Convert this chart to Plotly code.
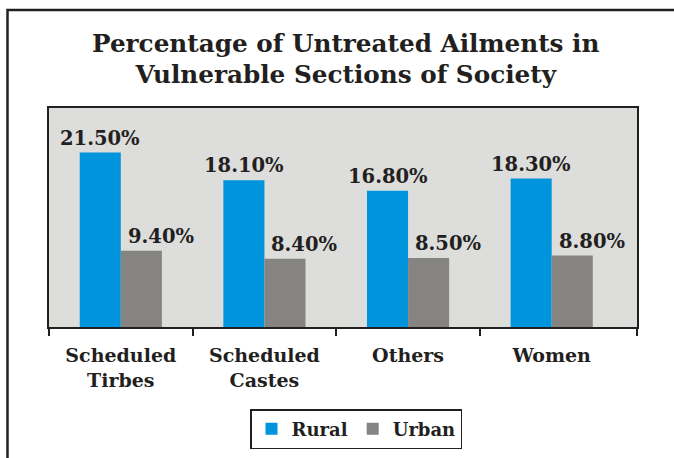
import plotly.graph_objects as go

categories = ["Scheduled<br>Tirbes", "Scheduled<br>Castes", "Others", "Women"]
rural = [21.5, 18.1, 16.8, 18.3]
urban = [9.4, 8.4, 8.5, 8.8]
rural_labels = ["21.50%", "18.10%", "16.80%", "18.30%"]
urban_labels = ["9.40%", "8.40%", "8.50%", "8.80%"]
title_lines = ["Percentage of Untreated Ailments in", "Vulnerable Sections of Society"]

BLUE = "#0094dc"
GRAY = "#858483"
DARK = "#231f20"
LABEL_FONT = dict(family="DejaVu Serif", size=19.5, color=DARK, weight="bold")

W, H = 674, 458
ML, MR, MT, MB = 49, 37, 108, 131
XMAX = 3.594  # axis extends slightly past last category as in the original
plot_w = W - ML - MR
plot_h = H - MT - MB


def px_to_paper(px, py):
    return (px - ML) / plot_w, 1 + (MT - py) / plot_h


fig = go.Figure()
fig.add_trace(go.Bar(name="Rural", x=list(range(len(categories))), y=rural,
                     marker=dict(color=BLUE, line=dict(width=0))))
fig.add_trace(go.Bar(name="Urban", x=list(range(len(categories))), y=urban,
                     marker=dict(color=GRAY, line=dict(width=0))))
# invisible helper trace to activate the tick-only overlay axis
fig.add_trace(go.Scatter(x=[-0.5], y=[0], xaxis="x2", mode="markers",
                         marker=dict(opacity=0), showlegend=False, hoverinfo="skip"))

annotations = []
for i, (v, t) in enumerate(zip(rural, rural_labels)):
    annotations.append(dict(x=i, y=v, text=t, showarrow=False, xref="x", yref="y",
                            xanchor="center", yanchor="bottom", xshift=-20.5, yshift=1,
                            font=LABEL_FONT))
for i, (v, t) in enumerate(zip(urban, urban_labels)):
    annotations.append(dict(x=i, y=v, text=t, showarrow=False, xref="x", yref="y",
                            xanchor="center", yanchor="bottom", xshift=40, yshift=1,
                            font=LABEL_FONT))

# Title: one text block; base font sets the line pitch, spans set glyph size
title_text = "<br>".join(f"<span style='font-size:24.7px'>{ln}</span>" for ln in title_lines)
tx, ty = px_to_paper(346, 59)
annotations.append(dict(x=tx, y=ty, xref="paper", yref="paper", text=title_text,
                        showarrow=False, xanchor="center", yanchor="middle", align="center",
                        font=dict(family="DejaVu Serif", size=23.5, color=DARK, weight="bold")))

fx0, _ = px_to_paper(7.5, 0)
_, fy_top = px_to_paper(0, 10)
_, fy_bot = px_to_paper(0, 470)
fx1, _ = px_to_paper(690, 0)
shapes = [
    dict(type="path", xref="paper", yref="paper",
         path=f"M {fx0} {fy_bot} L {fx0} {fy_top} L {fx1} {fy_top}",
         line=dict(color=DARK, width=2.5)),
]

lx, ly = px_to_paper(356, 409)
fig.update_layout(
    width=W, height=H, autosize=False,
    margin=dict(l=ML, r=MR, t=MT, b=MB, autoexpand=False),
    paper_bgcolor="white", plot_bgcolor="#dddddc",
    barmode="group", bargap=0.428, bargroupgap=0,
    showlegend=True,
    legend=dict(orientation="h", x=lx, xanchor="center", y=ly, yanchor="top",
                bordercolor=DARK, borderwidth=1.5, bgcolor="white",
                font=dict(family="DejaVu Serif", size=18, color=DARK, weight="bold"),
                itemwidth=30, tracegroupgap=0),
    xaxis=dict(tickmode="array", tickvals=list(range(len(categories))), ticktext=categories,
               range=[-0.5, XMAX], ticks="", showgrid=False, zeroline=False,
               showline=True, linecolor=DARK, linewidth=2, mirror=True,
               ticklabelstandoff=10, automargin=False,
               tickfont=dict(family="DejaVu Serif", size=19, color=DARK, weight="bold")),
    xaxis2=dict(overlaying="x", anchor="y", side="bottom", range=[-0.5, XMAX],
                tickmode="array", tickvals=[-0.5, 0.5, 1.5, 2.5, XMAX],
                ticks="outside", ticklen=8, tickwidth=1.5, tickcolor=DARK,
                showticklabels=False, showgrid=False, zeroline=False, showline=False),
    yaxis=dict(range=[0, 27], showticklabels=False, ticks="", showgrid=False,
               zeroline=False, showline=True, linecolor=DARK, linewidth=2, mirror=True),
    annotations=annotations,
    shapes=shapes,
)

fig.write_html("out.html", config={"displayModeBar": False},
               post_script="document.body.style.margin='0px';")
